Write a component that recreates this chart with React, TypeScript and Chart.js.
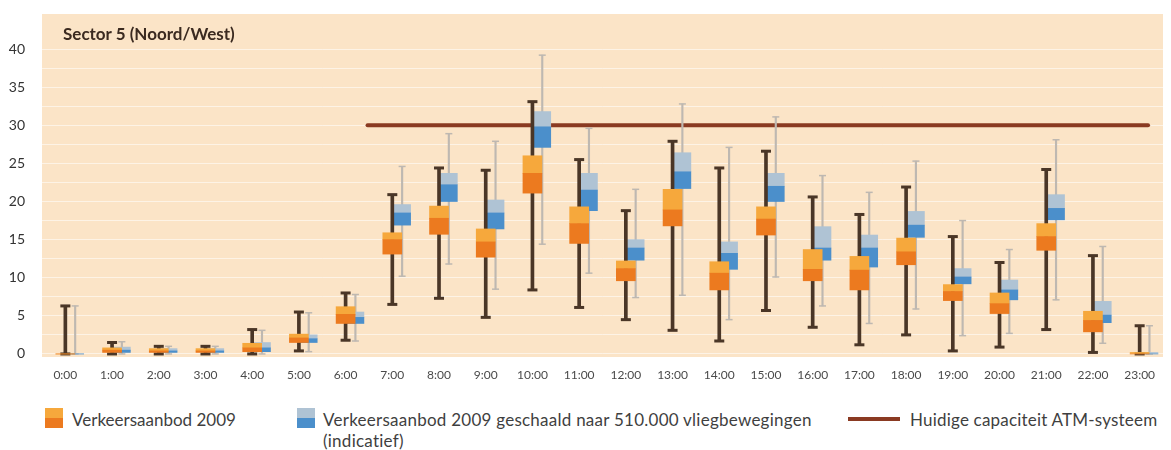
import React, { useEffect, useRef } from "react";
import { Chart, registerables } from "chart.js";

Chart.register(...registerables);

// ---- data ----
const hours = [0, 1, 2, 3, 4, 5, 6, 7, 8, 9, 10, 11, 12, 13, 14, 15, 16, 17, 18, 19, 20, 21, 22, 23];
const yTicks = [0, 2.5, 5, 7.5, 10, 12.5, 15, 17.5, 20, 22.5, 25, 27.5, 30, 32.5, 35, 37.5, 40];

// Verkeersaanbod 2009
const orangeMin = [0, 0, 0, 0, 0, 0.4, 1.8, 6.5, 7.3, 4.8, 8.4, 6.1, 4.5, 3.1, 1.7, 5.7, 3.5, 1.2, 2.5, 0.4, 0.9, 3.2, 0.2, 0];
const orangeQ1 = [0, 0.2, 0.2, 0.2, 0.3, 1.5, 4.0, 13.1, 15.7, 12.7, 21.1, 14.5, 9.6, 16.8, 8.4, 15.6, 9.6, 8.4, 11.7, 7.0, 5.3, 13.6, 2.9, 0];
const orangeMed = [0, 0.5, 0.4, 0.4, 0.8, 2.1, 5.2, 15.0, 17.8, 14.7, 23.7, 17.1, 11.2, 18.9, 10.6, 17.7, 11.1, 11.0, 13.4, 8.2, 6.6, 15.4, 4.4, 0];
const orangeQ3 = [0, 0.8, 0.7, 0.7, 1.4, 2.6, 6.2, 15.9, 19.4, 16.4, 26.0, 19.3, 12.2, 21.6, 12.1, 19.3, 13.7, 12.8, 15.2, 9.1, 8.0, 17.1, 5.6, 0.2];
const orangeMax = [6.3, 1.5, 1.0, 1.0, 3.2, 5.5, 8.0, 20.9, 24.4, 24.1, 33.1, 25.5, 18.8, 27.9, 24.4, 26.6, 20.6, 18.3, 21.9, 15.4, 12.0, 24.2, 12.9, 3.7];

// Verkeersaanbod 2009 geschaald naar 510.000 vliegbewegingen
const blueMin = [0, 0, 0, 0, 0, 0.3, 1.7, 10.2, 11.8, 8.5, 14.4, 10.6, 7.4, 7.7, 4.5, 10.1, 6.3, 4.0, 5.9, 2.4, 2.7, 7.1, 1.4, 0];
const blueQ1 = [0, 0.2, 0.2, 0.2, 0.3, 1.5, 4.0, 16.9, 20.0, 16.4, 27.1, 18.8, 12.3, 21.7, 11.1, 20.0, 12.3, 11.4, 15.3, 9.2, 7.1, 17.6, 4.1, 0];
const blueMed = [0, 0.5, 0.4, 0.4, 0.8, 2.0, 4.8, 18.5, 22.2, 18.5, 29.8, 21.5, 13.9, 23.9, 13.2, 22.0, 13.9, 13.9, 16.9, 10.1, 8.4, 19.1, 5.1, 0];
const blueQ3 = [0, 0.9, 0.7, 0.7, 1.5, 2.5, 5.5, 19.6, 23.7, 20.2, 31.8, 23.7, 15.0, 26.4, 14.7, 23.7, 16.7, 15.6, 18.7, 11.2, 9.7, 20.9, 6.9, 0.2];
const blueMax = [6.3, 1.6, 1.0, 1.0, 3.1, 5.4, 7.8, 24.6, 28.9, 27.9, 39.2, 29.6, 21.6, 32.8, 27.1, 31.1, 23.4, 21.2, 25.3, 17.5, 13.7, 28.1, 14.1, 3.7];

// Huidige capaciteit ATM-systeem
const capacityValue = 30;
const capacityFrom = 6.47;
const capacityTo = 23.18;

const BLUE_SHIFT = 0.21;

const title = "Sector 5 (Noord/West)";
const legendOrange = "Verkeersaanbod 2009";
const legendBlue1 = "Verkeersaanbod 2009 geschaald naar 510.000 vliegbewegingen";
const legendBlue2 = "(indicatief)";
const legendCap = "Huidige capaciteit ATM-systeem";

const C = {
  bg: "#FBE4C7",
  orangeDark: "#EC7A1F",
  orangeLight: "#F6A83C",
  blueDark: "#4B8FCB",
  blueLight: "#AFC3D4",
  orangeWhisker: "#4A3627",
  blueWhisker: "#BEB8B1",
  cap: "#8A3A22",
};

const floating = (xs: number[], lo: number[], hi: number[], shift: number) =>
  xs.map((h, i) => ({ x: h + shift, y: [lo[i], hi[i]] }));
const points = (xs: number[], v: number[], shift: number) => xs.map((h, i) => ({ x: h + shift, y: v[i] }));

export default function App() {
  const ref = useRef<HTMLCanvasElement>(null);

  useEffect(() => {
    document.body.style.margin = "0";
    const canvas = ref.current!;
    const bgPlugin = {
      id: "plotBg",
      beforeDraw(chart: any) {
        const { ctx, chartArea: a } = chart;
        ctx.save();
        ctx.fillStyle = C.bg;
        ctx.fillRect(a.left, a.top, a.right - a.left, a.bottom - a.top);
        ctx.restore();
      },
    };

    const bar = (data: any, color: string, thickness: number, order: number) => ({
      type: "bar" as const,
      data,
      backgroundColor: color,
      borderWidth: 0,
      barThickness: thickness,
      grouped: false,
      order,
    });
    const caps = (data: any, color: string, radius: number, width: number, order: number) => ({
      type: "line" as const,
      data,
      showLine: false,
      pointStyle: "line",
      pointRadius: radius,
      pointHoverRadius: radius,
      pointBorderWidth: width,
      pointBorderColor: color,
      borderColor: color,
      order,
    });

    const chart = new Chart(canvas, {
      type: "bar",
      data: {
        datasets: [
          bar(floating(hours, orangeQ1, orangeMed, 0), C.orangeDark, 19, 1),
          bar(floating(hours, orangeMed, orangeQ3, 0), C.orangeLight, 19, 1),
          caps(points(hours, orangeMax, 0), C.orangeWhisker, 5, 3, 2),
          caps(points(hours, orangeMin, 0), C.orangeWhisker, 5, 3, 2),
          bar(floating(hours, orangeMin, orangeMax, 0), C.orangeWhisker, 3, 3),
          bar(floating(hours, blueQ1, blueMed, BLUE_SHIFT), C.blueDark, 17, 4),
          bar(floating(hours, blueMed, blueQ3, BLUE_SHIFT), C.blueLight, 17, 4),
          caps(points(hours, blueMax, BLUE_SHIFT), C.blueWhisker, 3.5, 1.5, 5),
          caps(points(hours, blueMin, BLUE_SHIFT), C.blueWhisker, 3.5, 1.5, 5),
          bar(floating(hours, blueMin, blueMax, BLUE_SHIFT), C.blueWhisker, 1.5, 6),
          {
            type: "line" as const,
            data: [
              { x: capacityFrom, y: capacityValue },
              { x: capacityTo, y: capacityValue },
            ],
            borderColor: C.cap,
            borderWidth: 4,
            borderCapStyle: "round",
            pointRadius: 0,
            order: 7,
          },
        ] as any,
      },
      options: {
        responsive: false,
        animation: false,
        devicePixelRatio: 1,
        layout: { padding: { top: 14, right: 3, left: 0, bottom: 0 } },
        plugins: { legend: { display: false }, tooltip: { enabled: false } },
        events: [],
        scales: {
          x: {
            type: "linear",
            min: -0.5,
            max: 23.5,
            offset: false,
            grid: { display: false, drawTicks: false },
            border: { display: false },
            afterBuildTicks: (s: any) => {
              s.ticks = hours.map((h) => ({ value: h }));
            },
            afterFit: (s: any) => {
              s.height = 33;
              s.paddingLeft = 0;
              s.paddingRight = 0;
            },
            ticks: {
              autoSkip: false,
              maxRotation: 0,
              padding: 11,
              color: "#4a4a4a",
              font: { family: "Lato", size: 12 },
              callback: (v: any) => `${v}:00`,
            },
          },
          y: {
            type: "linear",
            min: -0.4,
            max: 44.6,
            grid: { color: "rgba(255,255,255,0.55)", lineWidth: 1, drawTicks: false },
            border: { display: false },
            afterBuildTicks: (s: any) => {
              s.ticks = yTicks.map((v) => ({ value: v }));
            },
            afterFit: (s: any) => {
              s.width = 42;
              s.paddingTop = 0;
              s.paddingBottom = 0;
            },
            ticks: {
              padding: 17,
              color: "#333",
              font: { family: "Lato", size: 14 },
              callback: (v: any) => (Number(v) % 5 === 0 ? String(v) : ""),
            },
          },
        },
      },
      plugins: [bgPlugin],
    });
    return () => chart.destroy();
  }, []);

  const txt: React.CSSProperties = {
    position: "absolute",
    fontFamily: "Lato, sans-serif",
    fontSize: 17,
    color: "#3f3f3f",
    whiteSpace: "nowrap",
    lineHeight: "21px",
  };

  return (
    <div style={{ position: "relative", width: 1171, height: 450, background: "#fff", overflow: "hidden" }}>
      <canvas ref={ref} width={1171} height={390} style={{ display: "block" }} />
      <div
        style={{
          position: "absolute",
          left: 63,
          top: 23,
          fontFamily: "Lato, sans-serif",
          fontWeight: 700,
          fontSize: 17,
          color: "#3b2a20",
          whiteSpace: "nowrap",
        }}
      >
        {title}
      </div>
      <div
        style={{
          position: "absolute",
          left: 45,
          top: 408,
          width: 18,
          height: 20,
          background: `linear-gradient(to bottom, ${C.orangeLight} 50%, ${C.orangeDark} 50%)`,
        }}
      />
      <div style={{ ...txt, left: 72, top: 409 }}>{legendOrange}</div>
      <div
        style={{
          position: "absolute",
          left: 297,
          top: 408,
          width: 18,
          height: 20,
          background: `linear-gradient(to bottom, ${C.blueLight} 50%, ${C.blueDark} 50%)`,
        }}
      />
      <div style={{ ...txt, left: 323, top: 409, letterSpacing: 0.25 }}>
        {legendBlue1}
        <br />
        {legendBlue2}
      </div>
      <div style={{ position: "absolute", left: 848, top: 417, width: 52, height: 4, background: C.cap }} />
      <div style={{ ...txt, left: 910, top: 409, letterSpacing: 0.2 }}>{legendCap}</div>
    </div>
  );
}
